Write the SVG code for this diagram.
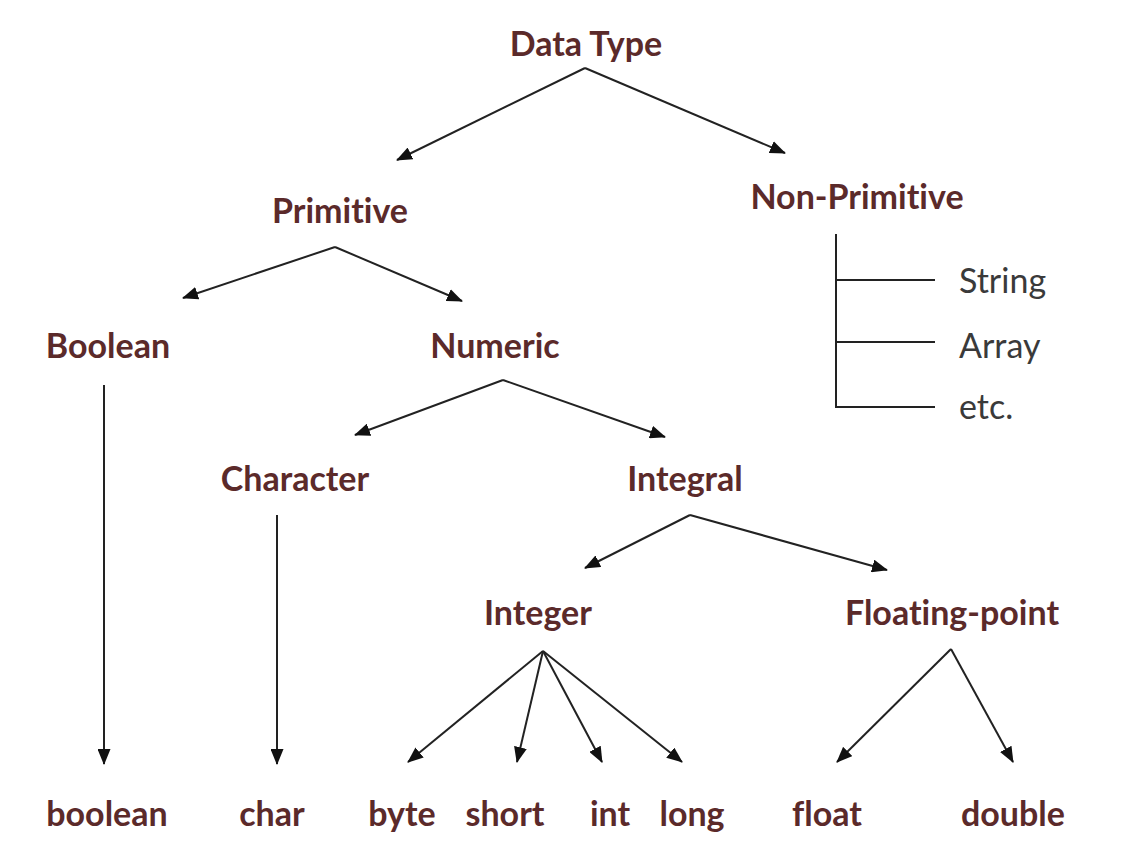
<svg xmlns="http://www.w3.org/2000/svg" width="1139" height="852" viewBox="0 0 1139 852">
<defs>
<marker id="ah" viewBox="0 0 16 13" refX="15" refY="6.5" markerWidth="16" markerHeight="13" markerUnits="userSpaceOnUse" orient="auto">
<path d="M0,0 L16,6.5 L0,13 z" fill="#111"/>
</marker>
<style>
.t{font-family:Lato,"Open Sans",sans-serif;font-weight:bold;font-size:34px;fill:#5b2a2a;text-anchor:middle;font-variant-ligatures:none}
.n{font-family:Lato,"Open Sans",sans-serif;font-size:34px;fill:#3a3a3a;font-variant-ligatures:none}
.c{stroke:#222;stroke-width:2;fill:none}
.a{marker-end:url(#ah)}
</style>
</defs>
<rect width="1139" height="852" fill="#fff"/>
<g id="connectors">
<line class="c a" x1="585" y1="68" x2="397" y2="160"/>
<line class="c a" x1="585" y1="68" x2="785" y2="153"/>
<line class="c a" x1="335" y1="247" x2="183" y2="298"/>
<line class="c a" x1="335" y1="247" x2="462" y2="301"/>
<line class="c a" x1="503" y1="380" x2="355" y2="435"/>
<line class="c a" x1="503" y1="380" x2="665" y2="437"/>
<line class="c a" x1="690" y1="515" x2="585" y2="568"/>
<line class="c a" x1="690" y1="515" x2="887" y2="570"/>
<line class="c a" x1="104" y1="385" x2="104" y2="764"/>
<line class="c a" x1="277" y1="515" x2="277" y2="764"/>
<line class="c a" x1="543" y1="651" x2="408" y2="762"/>
<line class="c a" x1="543" y1="651" x2="517" y2="762"/>
<line class="c a" x1="543" y1="651" x2="602" y2="762"/>
<line class="c a" x1="543" y1="651" x2="682" y2="762"/>
<line class="c a" x1="951" y1="649" x2="837" y2="762"/>
<line class="c a" x1="951" y1="649" x2="1013" y2="762"/>
<polyline class="c" points="836,234 836,407 935,407"/>
<line class="c" x1="836" y1="280" x2="935" y2="280"/>
<line class="c" x1="836" y1="342" x2="935" y2="342"/>
</g>
<g id="datatype"><text class="t" x="586" y="56">Data Type</text></g>
<g id="primitive"><text class="t" x="340" y="223">Primitive</text></g>
<g id="nonprimitive"><text class="t" x="857" y="209">Non-Primitive</text></g>
<g id="string"><text class="n" x="959" y="293">String</text></g>
<g id="array"><text class="n" x="959" y="358">Array</text></g>
<g id="etc"><text class="n" x="959" y="419">etc.</text></g>
<g id="boolean-cat"><text class="t" x="108" y="358">Boolean</text></g>
<g id="numeric"><text class="t" x="495" y="358">Numeric</text></g>
<g id="character"><text class="t" x="295" y="491">Character</text></g>
<g id="integral"><text class="t" x="685" y="491">Integral</text></g>
<g id="integer"><text class="t" x="538" y="625">Integer</text></g>
<g id="floating"><text class="t" x="952" y="625">Floating-point</text></g>
<g id="boolean"><text class="t" x="107" y="826">boolean</text></g>
<g id="char"><text class="t" x="272" y="826">char</text></g>
<g id="byte"><text class="t" x="402" y="826">byte</text></g>
<g id="short"><text class="t" x="505" y="826">short</text></g>
<g id="int"><text class="t" x="610" y="826">int</text></g>
<g id="long"><text class="t" x="692" y="826">long</text></g>
<g id="float"><text class="t" x="827" y="826">float</text></g>
<g id="double"><text class="t" x="1013" y="826">double</text></g>
</svg>
